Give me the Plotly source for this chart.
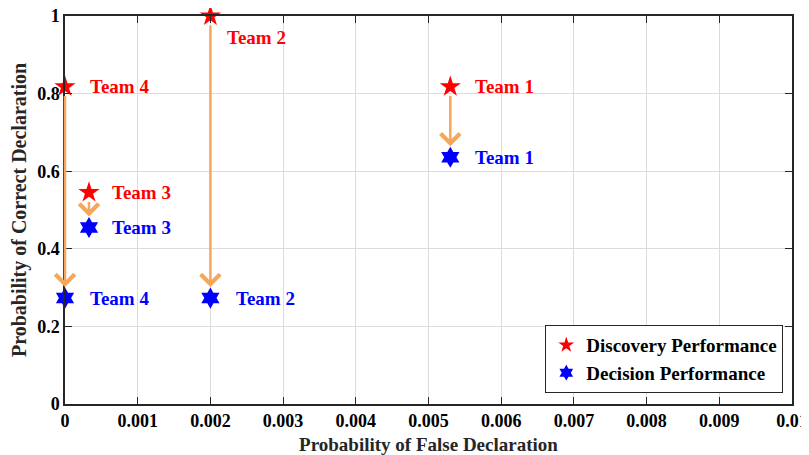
import plotly.graph_objects as go

teams = ["Team 1", "Team 2", "Team 3", "Team 4"]
false_decl = [0.0053, 0.0020, 0.00033, 0.0]
discovery = [0.818, 1.0, 0.545, 0.818]
decision = [0.636, 0.273, 0.455, 0.273]

x_ticks = [0, 0.001, 0.002, 0.003, 0.004, 0.005, 0.006, 0.007, 0.008, 0.009, 0.01]
x_tick_labels = ["0", "0.001", "0.002", "0.003", "0.004", "0.005", "0.006", "0.007", "0.008", "0.009", "0.01"]
y_ticks = [0, 0.2, 0.4, 0.6, 0.8, 1.0]
y_tick_labels = ["0", "0.2", "0.4", "0.6", "0.8", "1"]

FONT = "Liberation Serif"
AX = "#262626"
ARROW = "#F6A75C"

fig = go.Figure()

# arrows from discovery to decision
for i in range(len(teams)):
    fig.add_annotation(
        x=false_decl[i], y=decision[i], ax=false_decl[i], ay=discovery[i],
        xref="x", yref="y", axref="x", ayref="y",
        showarrow=True, arrowhead=4, arrowsize=1.5, arrowwidth=2.5,
        arrowcolor=ARROW, standoff=11, startstandoff=8, text="",
    )

fig.add_trace(go.Scatter(
    x=false_decl, y=discovery, mode="markers", name="<b>Discovery Performance</b>",
    marker=dict(symbol="star", size=16, color="#FF0000", line=dict(width=0)),
    cliponaxis=False,
))
fig.add_trace(go.Scatter(
    x=false_decl, y=decision, mode="markers", name="<b>Decision Performance</b>",
    marker=dict(symbol="hexagram", size=16, color="#0000FF", line=dict(width=0)),
    cliponaxis=False,
))

# labels: (xshift, yshift) per team for discovery and decision
disc_shift = [(23, 0), (15, -21), (21, 0), (23, 0)]
dec_shift = [(23, 0), (24, 0), (21, 0), (23, 0)]
for i, t in enumerate(teams):
    fig.add_annotation(x=false_decl[i], y=discovery[i], xref="x", yref="y", text="<b>%s</b>" % t,
                       showarrow=False, xanchor="left", yanchor="middle",
                       xshift=disc_shift[i][0], yshift=disc_shift[i][1],
                       font=dict(family=FONT, size=19, color="#FF0000"))
    fig.add_annotation(x=false_decl[i], y=decision[i], xref="x", yref="y", text="<b>%s</b>" % t,
                       showarrow=False, xanchor="left", yanchor="middle",
                       xshift=dec_shift[i][0], yshift=dec_shift[i][1],
                       font=dict(family=FONT, size=19, color="#0000FF"))

axis_common = dict(
    showline=True, linecolor=AX, linewidth=1.5, mirror="ticks",
    ticks="inside", ticklen=7, tickcolor=AX, tickwidth=1.2,
    showgrid=True, gridcolor="#DCDCDC", gridwidth=1, zeroline=False,
    tickfont=dict(family=FONT, size=18, color="#000000"),
    automargin=False, ticklabeloverflow="allow",
)

fig.update_xaxes(range=[0, 0.01], tickvals=x_ticks, ticktext=["<b>%s</b>" % s for s in x_tick_labels],
                 title=dict(text="<b>Probability of False Declaration</b>",
                            font=dict(family=FONT, size=19, color="#262626")), **axis_common)
fig.update_yaxes(range=[0, 1], tickvals=y_ticks, ticktext=["<b>%s</b>" % s for s in y_tick_labels],
                 title=dict(text="<b>Probability of Correct Declaration</b>",
                            font=dict(family=FONT, size=20, color="#262626")), **axis_common)

# page body has an 8px default margin, so the figure is made 8px smaller
fig.update_layout(
    width=801, height=447,
    margin=dict(l=57, r=17, t=8, b=51),
    plot_bgcolor="white", paper_bgcolor="white",
    showlegend=True,
    legend=dict(x=0.988, y=0.028, xanchor="right", yanchor="bottom",
                bgcolor="white", bordercolor="#262626", borderwidth=1,
                font=dict(family=FONT, size=19, color="#000000"),
                itemsizing="constant", tracegroupgap=0),
)

fig.write_html("out.html")
